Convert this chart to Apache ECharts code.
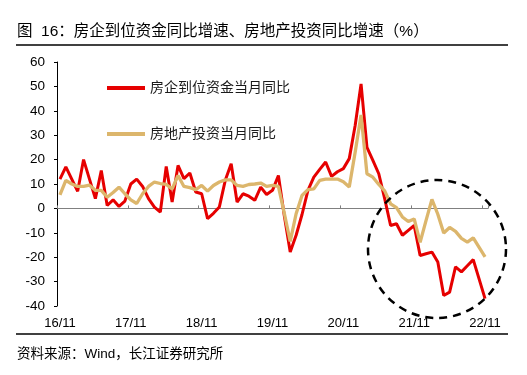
<!DOCTYPE html>
<html>
<head>
<meta charset="utf-8">
<script src="https://cdn.jsdelivr.net/npm/echarts@6/dist/echarts.min.js"></script>
<style>
  html, body { margin: 0; padding: 0; background: #fff; }
  #chart { width: 527px; height: 375px; }
</style>
</head>
<body>
<div id="chart"></div>
<script>
// months 16/11 .. 22/11
const months = [
  '16/11', '16/12',
  '17/01', '17/02', '17/03', '17/04', '17/05', '17/06', '17/07', '17/08', '17/09', '17/10', '17/11', '17/12',
  '18/01', '18/02', '18/03', '18/04', '18/05', '18/06', '18/07', '18/08', '18/09', '18/10', '18/11', '18/12',
  '19/01', '19/02', '19/03', '19/04', '19/05', '19/06', '19/07', '19/08', '19/09', '19/10', '19/11', '19/12',
  '20/01', '20/02', '20/03', '20/04', '20/05', '20/06', '20/07', '20/08', '20/09', '20/10', '20/11', '20/12',
  '21/01', '21/02', '21/03', '21/04', '21/05', '21/06', '21/07', '21/08', '21/09', '21/10', '21/11', '21/12',
  '22/01', '22/02', '22/03', '22/04', '22/05', '22/06', '22/07', '22/08', '22/09', '22/10', '22/11'
]

const seriesNames = ['房企到位资金当月同比', '房地产投资当月同比']

// 房企到位资金当月同比 (%)
const fundsYoy = [
  12, 17,
  12, 7, 20, 12, 4, 15.5, 1.2, 3.5, 0.8, 3, 10, 12,
  9, 4, 0.5, -1.5, 17.2, 2.6, 17.6, 12.2, 14.5, 6.7, 6, -4.2,
  -2, 0.6, 11.5, 18.3, 2.6, 6, 5, 3.3, 8.7, 5.7, 7.4, 13.5,
  -3, -17.9, -11, -2.5, 7.4, 12.8, 16, 19, 13.1, 15, 16.3, 20.4,
  34, 51, 25, 19.7, 14.2, 4, -7, -6.3, -11, -9, -7, -19.3,
  -18.6, -17.9, -22, -35.7, -34.3, -24, -26, -23.5, -21, -29, -37
]

// 房地产投资当月同比 (%)
const investYoy = [
  5.5, 11.5,
  10, 9, 9, 9.5, 7.4, 7.4, 4.6, 6.5, 8.7, 6, 3.5, 2,
  6, 9, 10.8, 10.2, 9.8, 8, 13.5, 9, 8.5, 7.7, 9.4, 7.1,
  9.4, 10.8, 11.7, 11.7, 9.4, 9, 9.8, 10, 10.4, 9, 9.4, 9,
  -2, -13.5, -2.2, 5.3, 7.7, 8, 11.5, 12, 12, 12, 10.9, 8.8,
  23, 38.3, 14.2, 12.8, 9.8, 7.2, 1.9, 0.3, -3.5, -5.4, -4.3, -13.9,
  -5, 3.7, -2.4, -10.1, -7.8, -9.4, -12.3, -13.8, -12.1, -16, -19.9
]

const yMin = -40
const yMax = 60
const yStep = 10

const titleText = '图  16：房企到位资金同比增速、房地产投资同比增速（%）'
const sourceText = '资料来源：Wind，长江证券研究所'

const FONT = '"Liberation Sans", "Noto Sans CJK SC", sans-serif'
const RED = '#e60000'
const TAN = '#dcb66c'

const chart = echarts.init(document.getElementById('chart'))

const option = {
  animation: false,
  backgroundColor: '#fff',
  textStyle: { fontFamily: FONT },
  grid: { left: 57, right: 39, top: 62, bottom: 69 },
  legend: {
    orient: 'vertical',
    left: 107,
    top: 80,
    padding: 0,
    icon: 'rect',
    itemWidth: 38,
    itemHeight: 4,
    itemGap: 30,
    textStyle: { fontSize: 14, lineHeight: 16, color: '#1a1a1a', fontFamily: FONT },
    data: seriesNames
  },
  xAxis: [
    {
      type: 'category',
      data: months,
      boundaryGap: true,
      position: 'bottom',
      axisLine: { show: false, onZero: false },
      axisTick: { show: false },
      axisLabel: { interval: 11, margin: 11, fontSize: 13, color: '#000', fontFamily: FONT }
    },
    {
      type: 'category',
      data: months,
      boundaryGap: true,
      position: 'top',
      axisLine: { show: true, onZero: true, lineStyle: { color: '#808080', width: 1 } },
      axisTick: { show: true, interval: 11, inside: false, length: 3, lineStyle: { color: '#808080' } },
      axisLabel: { show: false }
    }
  ],
  yAxis: {
    type: 'value',
    min: yMin,
    max: yMax,
    interval: yStep,
    axisLine: { show: true, lineStyle: { color: '#000', width: 1 } },
    axisTick: { show: true, length: 3, lineStyle: { color: '#000' } },
    axisLabel: { margin: 12, fontSize: 13.5, color: '#000', fontFamily: FONT },
    splitLine: { show: false }
  },
  series: [
    {
      name: seriesNames[0],
      type: 'line',
      data: fundsYoy,
      symbol: 'none',
      color: RED,
      lineStyle: { color: RED, width: 3 }
    },
    {
      name: seriesNames[1],
      type: 'line',
      data: investYoy,
      symbol: 'none',
      color: TAN,
      lineStyle: { color: TAN, width: 3.3 }
    }
  ],
  graphic: [
    {
      type: 'text',
      x: 17,
      y: 32,
      style: { text: titleText, font: '15.5px ' + FONT, fill: '#000', verticalAlign: 'middle' }
    },
    {
      type: 'line',
      shape: { x1: 16, y1: 45, x2: 508, y2: 45 },
      style: { stroke: '#000', lineWidth: 1.5 }
    },
    {
      type: 'line',
      shape: { x1: 16, y1: 334, x2: 508, y2: 334 },
      style: { stroke: '#000', lineWidth: 1.5 }
    },
    {
      type: 'text',
      x: 17,
      y: 354,
      style: { text: sourceText, font: '13.5px ' + FONT, fill: '#000', verticalAlign: 'middle' }
    },
    {
      // dashed highlight circle
      type: 'circle',
      shape: { cx: 437, cy: 249, r: 69 },
      style: { fill: 'none', stroke: '#000', lineWidth: 2.5, lineDash: [8, 6] },
      z: 10
    }
  ]
}

chart.setOption(option)
</script>
</body>
</html>
